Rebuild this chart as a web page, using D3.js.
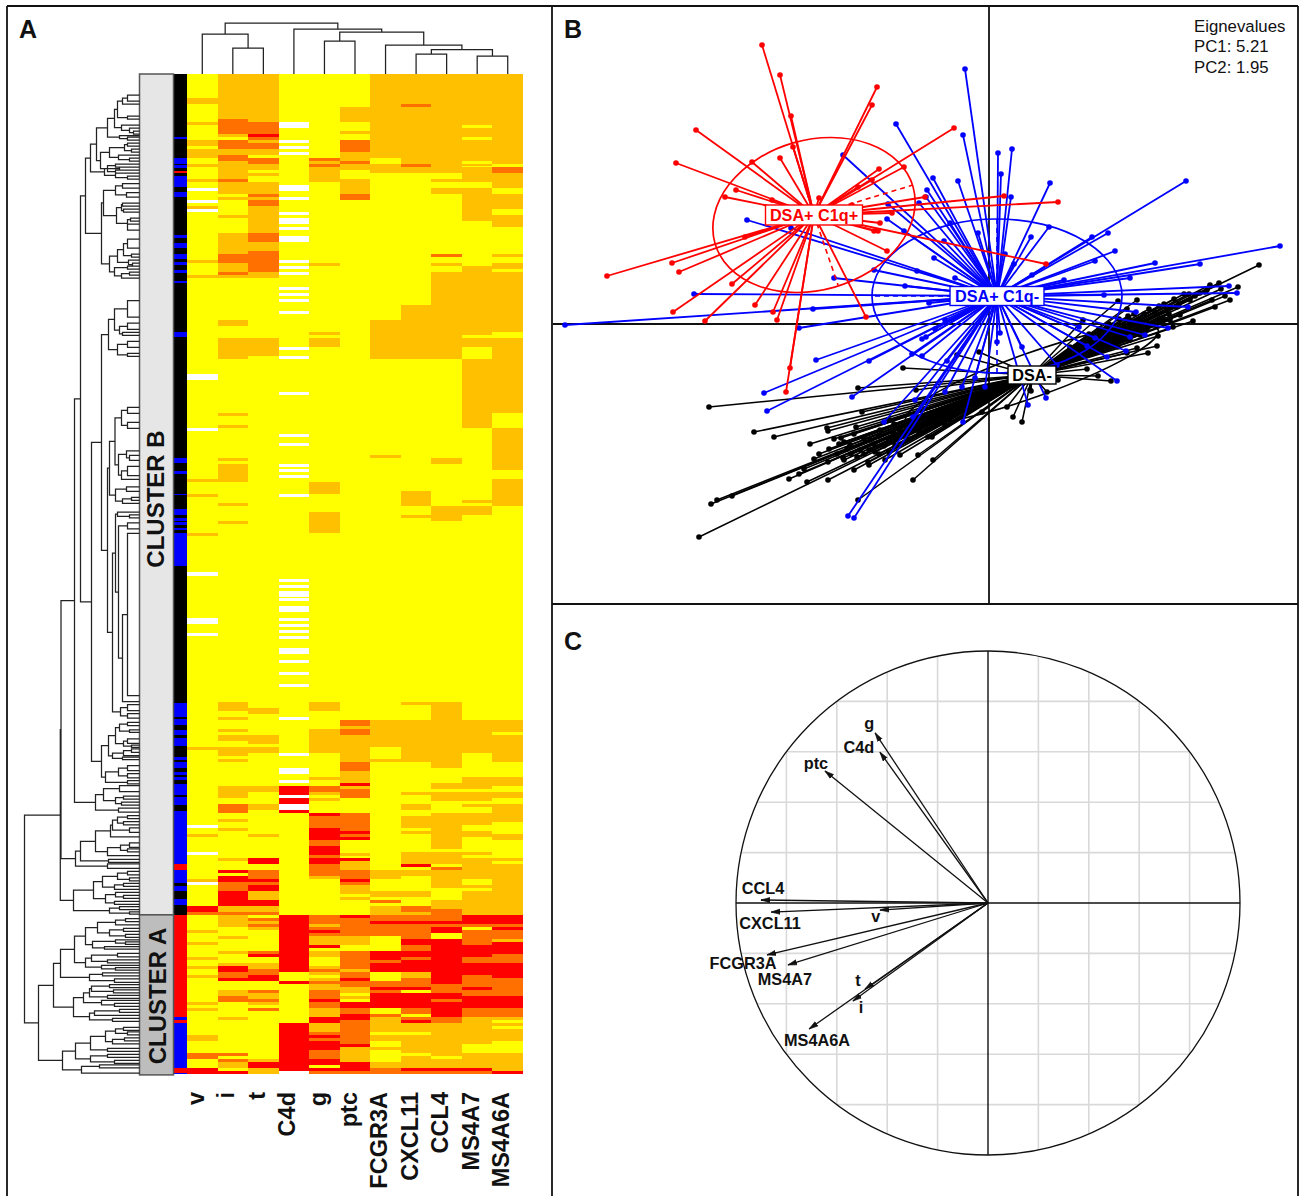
<!DOCTYPE html>
<html>
<head>
<meta charset="utf-8">
<script src="https://cdn.jsdelivr.net/npm/d3@7"></script>
<style>
  body { margin: 0; background: #fff; }
  text { font-family: "Liberation Sans", Arial, sans-serif; }
</style>
</head>
<body>
<div id="chart"></div>
<script>
// heatmap: each column is a list of [fromRow, toRow, level], everything else is level 0
// level: -1 missing, 0 yellow, 1 amber, 2 orange, 3 red
const columnNames = ["v", "i", "t", "C4d", "g", "ptc", "FCGR3A", "CXCL11", "CCL4", "MS4A7", "MS4A6A"];
const rowCount = 333;

const heatV = [[8,10,1],[16,17,1],[22,24,1],[25,28,1],[30,31,1],[35,36,1],[38,39,-1],[42,43,-1],[44,45,1],[45,46,-1],[62,63,1],[67,68,1],[100,102,-1],[118,119,-1],[135,136,1],[140,141,1],[153,154,1],[166,167,-1],[181,183,-1],[186,187,-1],[224,225,1],[250,251,-1],[253,254,1],[259,260,-1],[268,269,1],[269,270,-1],[277,279,3],[279,280,2],[285,286,1],[289,290,1],[294,295,1],[297,298,1],[300,301,1],[309,310,1],[311,312,1],[320,322,1],[326,328,2],[331,333,3]];
const heatI = [[0,15,1],[15,20,2],[20,21,1],[22,25,2],[25,27,1],[27,29,2],[29,35,1],[35,36,2],[36,40,1],[41,42,1],[47,48,1],[53,60,1],[60,63,2],[63,66,1],[66,67,2],[67,68,1],[82,84,1],[88,95,1],[113,114,1],[117,118,1],[128,129,1],[130,136,1],[143,144,1],[149,150,1],[209,212,1],[214,215,1],[218,219,1],[220,222,1],[224,227,1],[228,229,1],[237,241,1],[243,246,2],[248,249,1],[251,252,1],[261,262,1],[265,266,3],[267,269,3],[269,272,2],[272,277,3],[277,279,1],[279,280,2],[280,284,1],[287,288,1],[292,293,1],[296,297,1],[297,299,3],[299,301,2],[301,302,3],[305,307,1],[307,309,2],[314,315,1],[326,327,2],[328,329,2],[329,331,1],[332,333,3]];
const heatT = [[0,16,1],[16,20,2],[20,21,3],[21,22,2],[22,23,1],[23,25,2],[25,27,1],[28,30,2],[30,32,1],[33,34,1],[36,40,1],[40,41,2],[41,42,1],[42,44,2],[44,53,1],[53,56,2],[56,59,1],[59,66,2],[66,68,1],[88,94,1],[211,213,1],[220,223,1],[224,226,1],[237,239,1],[243,245,1],[253,254,1],[261,263,3],[265,268,2],[268,269,3],[269,270,2],[270,272,3],[272,275,1],[275,277,3],[277,279,1],[279,280,2],[281,282,2],[282,283,1],[283,284,2],[284,285,1],[292,293,2],[293,294,3],[296,298,1],[298,300,2],[300,302,3],[305,306,2],[306,308,1],[308,309,2],[309,310,1],[311,312,2],[328,329,1],[329,331,3],[331,333,1]];
const heatC4d = [[16,18,-1],[22,23,-1],[24,25,-1],[26,27,-1],[37,39,-1],[41,42,-1],[46,47,-1],[48,50,-1],[51,52,-1],[54,56,-1],[62,63,-1],[64,65,-1],[66,67,-1],[71,72,-1],[73,74,-1],[75,76,-1],[79,80,-1],[91,92,-1],[94,95,-1],[106,107,-1],[120,121,-1],[123,124,-1],[130,131,-1],[131.5,132.5,-1],[133.5,134.5,-1],[140,141,-1],[168,169,-1],[170,171,-1],[172,174,-1],[174.5,175.5,-1],[177,179,-1],[181,182,-1],[183,184,-1],[185,186,-1],[187,188,-1],[191,193,-1],[195,196,-1],[199,200,-1],[203,204,-1],[214,215,-1],[226,227,-1],[231,233,-1],[235,236,-1],[237,240,3],[240,241,-1],[241,243,3],[243,245,-1],[245,246,3],[280,299,3],[302,303,3],[316,332,3],[332,333,-1]];
const heatG = [[28,29,2],[29,30,1],[30,31,2],[31,36,1],[63,64,1],[86,87,1],[88,91,1],[136,140,1],[146,153,1],[209,212,1],[218,226,1],[234,235,1],[237,239,2],[239,240,1],[241,242,1],[246,247,3],[247,251,2],[251,255,3],[255,257,2],[257,260,3],[260,261,2],[261,263,3],[263,267,2],[267,268,1],[280,283,2],[283,284,1],[284,285,2],[285,286,3],[286,287,2],[287,290,1],[290,291,3],[292,294,1],[297,298,1],[298,299,2],[299,300,1],[301,302,1],[302,303,2],[303,305,1],[305,308,2],[308,309,3],[309,311,2],[311,314,1],[314,316,3],[316,319,1],[319,320,2],[320,321,3],[321,322,2],[322,325,3],[325,328,2],[328,330,3],[331,332,3],[332,333,2]];
const heatPtc = [[11,16,1],[19,20,1],[22,26,2],[26,29,1],[29,30,2],[30,32,1],[35,40,1],[40,42,2],[215,217,2],[217,218,1],[218,220,2],[220,229,1],[229,232,2],[232,236,1],[236,237,3],[237,238,1],[238,241,2],[246,252,2],[252,253,3],[253,254,2],[254,255,3],[259.5,260.5,1],[261,262,3],[262,265,1],[265,268,2],[268,269,3],[269,270,2],[270,273,1],[274,275,1],[280,281,3],[281,287,2],[287,289,1],[289,290,1],[292,298,2],[298,299,1],[299,301,2],[301,302,3],[302,304,2],[304,306,1],[307,308,1],[309,311,3],[311,313,2],[313,315,3],[315,323,2],[323,324,3],[324,329,1],[329,332,3],[332,333,2]];
const heatFcgr = [[0,28,1],[30,33,1],[82,95,1],[127,128,1],[215,224,1],[228,229,1],[265,268,1],[272,274,1],[275,276,2],[277,280,1],[280,282,2],[282,283,3],[283,287,2],[292,295,3],[295,296,2],[296,299,3],[302,304,2],[304,305,3],[305,306,2],[306,311,3],[313,314,2],[314,319,1],[320,322,1],[324,325,1],[329,331,1],[331,333,2]];
const heatCxcl = [[0,10,1],[10,11,2],[11,21,1],[21,30,1],[30,31,2],[31,33,1],[77,95,1],[139,144,1],[147,148,1],[209,210,1],[215,229,1],[239,240,1],[243,245,1],[247,251,1],[252,253,1],[259,263,1],[263,264,3],[265,267,1],[272,274,1],[277,278,2],[278,279,2],[279,280,1],[280,282,2],[282,283,3],[283,288,2],[288,290,3],[290,292,2],[292,294,3],[294,295,2],[295,296,3],[296,299,3],[299,301,1],[301,303,2],[303,304,2],[304,305,3],[306,311,3],[311,313,2],[314,315,2],[315,316,3],[316,319,1],[320,326,1],[327,331,1],[331,332,3],[332,333,2]];
const heatCcl4 = [[0,33,1],[35,36,1],[38,40,1],[60,61,2],[63,64,1],[66,95,1],[128,130,1],[144,149,1],[209,231,1],[236,238,1],[239,242,1],[246,258,1],[259,263,1],[264,265,2],[265,271,1],[275,278,1],[278,282,2],[282,283,3],[283,284,2],[284,286,3],[288,303,3],[303,306,2],[306,308,3],[308,309,2],[309,314,3],[314,316,2],[316,327,1],[328,331,1],[331,332,3],[332,333,2]];
const heatMs7 = [[0,17,1],[18,21,1],[22,29,1],[30,30.5,1],[31,33,1],[33,36,1],[38,49,1],[64,87,1],[88,91,1],[95,118,1],[142,143,1],[144,147,1],[215,226,1],[234,238,1],[239,242,1],[243,244,1],[246,250,1],[252,254,1],[259,260,1],[261,268,1],[270,271,1],[272,280,1],[280,283,3],[283,284,2],[285,290,2],[290,294,3],[294,296,2],[296,300,3],[300,304,2],[304,305,3],[305,307,2],[307,311,3],[311,314,2],[314,323,1],[326,331,1],[331,332,3],[332,333,2]];
const heatMs6 = [[0,30,1],[31,33,2],[33,38,1],[40,45,1],[47,51,1],[60,61,1],[63,65,1],[66,86,1],[88,113,1],[118,132,1],[135,140,1],[140,144,1],[215,219,1],[220,229,1],[234,237,1],[239,241,1],[243,249,1],[253,255,1],[261,262,1],[263,280,1],[280,283,3],[283,284,2],[284,285,3],[285,288,2],[288,289,1],[289,293,3],[293,296,2],[296,301,3],[301,307,2],[307,311,3],[311,314,2],[314,315,1],[316,317,1],[318,322,1],[326,327,1],[327,332,1],[332,333,3]];
const heatColumns = [heatV, heatI, heatT, heatC4d, heatG, heatPtc, heatFcgr, heatCxcl, heatCcl4, heatMs7, heatMs6];

// DSA status strip: black by default, [fromRow, toRow, group]
const stripRuns = [[21,21.5,"b"],[28,30,"b"],[30.3,31.3,"b"],[32.3,33,"r"],[34,37.7,"b"],[39.3,41,"b"],[53.7,54.7,"b"],[56.3,58,"b"],[60,61.7,"b"],[62.7,63.7,"b"],[65.3,66.3,"b"],[69,69.7,"b"],[86,87.7,"b"],[128,129.7,"b"],[132.3,133.3,"b"],[139.7,140.3,"b"],[145,146.7,"b"],[147.7,148.7,"b"],[149.3,150.3,"b"],[151.3,152,"b"],[153,163.7,"b"],[209.3,214,"b"],[214.7,216.7,"b"],[218.3,220,"b"],[221,223.7,"b"],[227.3,228.3,"b"],[229,231,"b"],[232.5,233.5,"b"],[234.2,235.2,"b"],[236.3,240,"b"],[240.7,243.3,"b"],[245.3,263,"b"],[263,265,"r"],[265,269.3,"b"],[270.3,272,"b"],[274.7,276.7,"b"],[280,314,"r"],[314,315,"b"],[315,316,"r"],[316,331,"b"],[331,332.6,"r"],[332.6,333,"b"]];

// column dendrogram [height, left, right]
const columnTree = [51,[40,"v",[26,"i","t"]],[45,"C4d",[42,[33,"g","ptc"],[29,"FCGR3A",[24.5,[20,"CXCL11","CCL4"],[18,"MS4A7","MS4A6A"]]]]]];

// row dendrogram [height, left, right], a plain number is the row of a leaf
const treeUpperA = [43,[32,[25,[22,[17,[12,7,9],10],[12,14,15]],[18,17,[10,18,[6,19,20]]]],[20,20.5,[12,21,22]]],[39,[30,[15,[12,23,24],[8,25,26]],[21,27,[10,28,29]]],[32,[24,30,31],[24,32,33]]]];
const treeUpperB = [35,[20,31,32],[24,33,[12,34,35]]];
const treeMidA = [36,[24,[17,36.5,38],[13,39.5,41]],[23,[18,[17,43,44],[16,45,46]],[12,[9,48,49],[12,50,52]]]];
const treeMidB = [30,[22,[16,[12,55,58],[8,60,61]],[11,62,[7,63,64]]],[25,[12,64,65],[18,[10,66,67],68]]];
const treeTop = [54,[49,treeUpperA,treeUpperB],[38,treeMidA,treeMidB]];

const treeP = [31,[25,[12,75.5,81],[20,[12,83,85],[17,86,87]]],[22,[12,89,91],[12,93,94]]];
const treeL = [24.5,[18,[12,111,113],[12,116,118]],[21,[13,125.5,[10,127,128.7]],[18,[12,130.7,133.7],135]]];
const treeM = [24,[13,137.5,139],[17,[8,141,142],143]];
const treeE = [24,[22,145.9,[10,146.8,147.8]],[21,[12,149.5,151.5],[17,[12,153,207],209]]];
const treeF = [19,[12,210,212],[12,213,214.5]];
const treeQ = [32,[30,treeL,treeM],[27,treeE,treeF]];
const treeU = [31,[24,[20,[12,215.9,217],[10,218.4,219.2]],[16,[12,221.4,222.9],[8,223.5,224.2]]],[27,[16,[8,224.7,225.9],227],[17,227.5,228.3]]];
const treeV = [34,[21,[12,230.3,232],[12,233,234.4]],[12,235.3,236.4]];
const treeS = [48,[38,treeP,treeQ],[38,treeU,treeV]];

const treeX = [44,[36,[20,237,239],[24,[16,240.5,241.5],[18,242.5,243.5]]],[21,244.5,245.8]];
const treeZa = [29,[27,[22,[12,247,248],[16,249,250]],[10,251,252.5]],254];
const treeZb = [32,[19,[10,256,257.5],[12,258,259]],260.3];
const treeZ2 = [64,[59,[44,treeZa,treeZb],[31,261.5,262.5]],[32,263,264.5]];
const treeZ4 = [66,[46,[37,[22,[12,265.5,266.7],[10,267.7,268.7]],[25,[16,269.5,270.5],271.5]],[34,[24,272.5,[16,273.5,274.5]],[25,275.5,276.5]]],[30,[20,277.3,278.3],[10,279,279.8]]];

const treeA1 = [54,[42,[24,[14,281.3,282.3],283.3],[30,[16,284.5,285.5],[14,286.5,287.5]]],[47,[24,288.3,[14,289,289.8]],[35,290.6,291.4]]];
const treeA2 = [54,[48,[22,292.8,294],[32,295,296]],[38,296.8,[24,297.6,298.4]]];
const treeA3 = [50,[37,299.3,300.3],[25,301.3,302.5]];
const treeA4 = [66,[56,[50,[48,[30,303.2,304.2],[26,305,306]],[32,306.8,307.8]],[38,308.5,[25,309.5,310.5]]],[50,[45,[20,311.5,312.5],313.5],[27,314.5,315.5]]];
const treeA5 = [64,[49,[34,[24,[16,317.5,318.5],[12,319,320]],[27,[15,321,322],323]],[32,324.5,325.5]],[49,[32,326.5,327.5],[25,328.5,329.5]]];
const treeA6 = [58,[40,330,331],332.7];
const treeClusterA = [101,[86,[79,[65,treeA1,treeA2],treeA3],treeA4],[77,treeA5,treeA6]];

const rowTree = [115,[79.2,[78.5,[65,[59,treeTop,treeS],treeX],treeZ2],treeZ4],treeClusterA];

// PCA individuals, [PC1, PC2]
const centreBlack = [0.43, -0.51];
const centreBlue = [0.08, 0.28];
const centreRed = [-1.75, 1.09];

const pointsRed = [[-2.27,2.79],[-2.09,2.49],[-1.98,2.08],[-1.12,2.37],[-1.17,2.19],[-2.93,1.94],[-3.13,1.61],[-2.37,1.62],[-2.09,1.66],[-1.96,1.77],[-0.85,1.57],[-1.10,1.55],[-1.17,1.44],[-1.31,1.37],[-2.53,1.34],[-2.64,1.27],[-2.17,1.24],[-1.70,1.26],[-0.64,1.27],[-1.37,1.19],[-0.97,1.11],[-1.09,1.01],[-1.15,0.93],[-1.11,0.93],[-1.02,0.73],[-3.82,0.48],[-3.17,0.61],[-3.10,0.52],[-2.44,0.87],[-2.57,0.40],[-3.16,0.12],[-2.84,0.03],[-2.34,0.19],[-2.16,0.12],[-2.12,0.04],[-1.23,0.07],[0.57,0.60],[0.15,1.28],[0.69,1.22],[-0.35,1.96],[-2.03,-0.68],[-1.99,-0.44]];
const pointsBlue = [[-0.24,2.55],[-0.26,1.89],[0.09,1.71],[0.23,1.75],[0.12,1.50],[0.22,1.27],[0.61,1.41],[-0.31,1.43],[-0.56,1.46],[-0.62,1.34],[-0.63,1.27],[1.97,1.43],[-0.39,1.01],[-0.11,0.91],[0.60,0.97],[0.42,0.87],[1.19,0.91],[1.03,0.87],[1.26,0.73],[1.06,0.63],[2.91,0.78],[1.66,0.61],[2.11,0.60],[0.75,0.44],[1.41,0.46],[-0.55,0.66],[-0.45,0.83],[0.16,0.70],[-0.34,0.46],[0.25,0.60],[0.43,0.49],[2.40,0.38],[2.48,0.31],[1.15,0.29],[-0.60,0.21],[-1.46,1.69],[-0.93,2.00],[-0.70,1.21],[-1.01,1.20],[-1.02,1.05],[-0.85,0.93],[-2.42,1.04],[-1.98,0.96],[-1.15,0.54],[-0.72,0.53],[-1.55,0.46],[-0.84,0.38],[-2.95,0.30],[-1.76,0.15],[-4.24,-0.01],[-1.90,-0.04],[-1.73,-0.36],[-2.25,-0.69],[-2.22,-0.87],[-1.20,-0.37],[-0.67,-0.15],[-0.63,-0.13],[-0.54,-0.05],[-0.44,0.04],[-1.37,-0.73],[-0.77,-0.30],[-0.67,-0.32],[-0.42,-0.37],[-0.74,-0.76],[-1.05,-0.98],[-0.27,-0.63],[-0.44,-0.68],[-0.04,-0.63],[-0.14,-0.54],[-0.26,-0.98],[-1.41,-1.92],[-1.35,-1.94],[-0.76,-0.93],[0.08,-0.18],[0.33,-0.23],[0.57,-0.74],[0.39,-0.81],[0.11,-0.09],[1.99,0.17],[1.47,0.12],[1.79,-0.04],[0.90,-0.03],[1.56,-0.11],[1.41,-0.13],[1.37,-0.27],[1.18,-0.33],[0.98,-0.22],[1.06,-0.14],[1.28,-0.57],[0.68,-0.41]];
const pointsBlackLower = [[-2.80,-0.83],[-2.35,-1.08],[-2.15,-1.13],[-1.79,-1.20],[-1.62,-1.04],[-1.61,-1.07],[-1.48,-1.14],[-1.33,-1.03],[-1.27,-0.88],[-1.31,-0.64],[-0.73,-0.66],[-0.86,-0.44],[-0.32,-0.31],[-0.10,-0.28],[-2.78,-1.80],[-2.72,-1.76],[-2.57,-1.72],[-2.90,-2.13],[-1.82,-1.58],[-1.61,-1.56],[-1.61,-1.38],[-1.46,-1.34],[-1.45,-1.36],[-1.35,-1.46],[-1.21,-1.38],[-1.20,-1.41],[-1.04,-1.36],[-1.31,-1.76],[-0.71,-1.31],[-0.76,-1.56],[-0.56,-1.36],[-0.61,-1.13],[-0.57,-1.13],[-0.07,-0.88],[0.18,-0.83],[0.24,-0.93],[0.33,-0.98],[0.41,-0.66],[0.58,-0.68],[-1.19,-1.16],[-1.09,-1.06],[-0.94,-1.21],[-0.84,-1.11],[-0.99,-0.96],[-0.74,-0.96],[-0.64,-1.01],[-0.49,-0.86],[-0.44,-1.01],[-0.34,-0.91],[-0.24,-0.81],[-0.14,-0.71],[-0.89,-1.31],[-1.29,-1.26],[-1.39,-1.21],[-1.14,-1.28],[-1.55,-1.15],[-1.50,-1.20],[-1.45,-1.18],[-1.42,-1.25],[-1.38,-1.30],[-1.32,-1.33],[-1.25,-1.30],[-1.20,-1.26],[-1.15,-1.20],[-1.05,-1.22],[-1.00,-1.15],[-0.95,-1.10],[-0.90,-1.05],[-0.80,-1.00],[-1.52,-1.30],[-1.60,-1.25],[-1.70,-1.30],[-1.75,-1.35],[-1.85,-1.45],[-1.90,-1.50],[-2.00,-1.55],[-1.10,-1.30],[-1.00,-1.28],[-1.25,-1.15],[-1.35,-1.10],[-1.10,-1.12],[-0.80,-1.15],[-0.70,-1.08],[-0.95,-1.00]];
const pointsBlackUpper = [[2.70,0.59],[2.30,0.41],[2.49,0.37],[2.32,0.35],[2.36,0.28],[2.41,0.24],[2.26,0.17],[2.18,0.34],[2.23,0.24],[2.04,0.03],[1.84,-0.03],[1.91,0.09],[1.66,0.12],[1.48,0.24],[1.38,0.15],[1.39,0.08],[1.29,0.23],[1.69,-0.12],[1.68,-0.22],[1.59,-0.29],[1.48,-0.24],[1.38,-0.29],[1.22,-0.57],[1.09,-0.52],[0.98,-0.45],[0.69,-0.56],[0.42,-0.67],[0.94,0.04],[1.18,-0.03],[1.51,0.04],[1.78,0.14],[2.01,0.24],[2.11,0.31],[2.16,0.32],[1.88,0.17],[1.74,0.06],[1.58,-0.06],[1.41,-0.16],[1.29,-0.23],[1.08,-0.16],[0.81,-0.23],[2.06,0.28],[2.21,0.39],[1.81,0.04],[1.31,-0.06],[1.51,-0.11],[1.00,-0.10],[1.10,-0.05],[1.20,0.00],[1.30,0.05],[1.40,0.05],[1.45,0.10],[1.55,0.10],[1.60,0.15],[1.70,0.18],[1.75,0.20],[1.85,0.25],[1.95,0.30],[2.00,0.30],[1.20,-0.12],[1.30,-0.15],[1.40,-0.05],[1.50,0.00],[1.60,0.00],[1.70,0.05],[1.80,0.10],[1.90,0.20],[1.10,-0.20],[1.20,-0.20],[1.30,-0.10]];
const pointsBlack = pointsBlackLower.concat(pointsBlackUpper);

// ellipse semi axes in PC units and tilt in degrees, then where the dashed axes end
const ellipseRed = [1.03, 0.75, 16];
const ellipseBlue = [1.25, 0.77, 0];
const ellipseBlack = [1.34, 0.22, 19.6];
const dashEndsRed = [[-0.76,1.39],[-1.51,0.39],[-1.96,1.77],[-2.44,0.87]];
const dashEndsBlue = [[0.08,1.06],[-1.17,0.28],[0.08,-0.49]];

// correlation circle
const varNames = ["g", "C4d", "ptc", "CCL4", "CXCL11", "v", "FCGR3A", "MS4A7", "t", "i", "MS4A6A"];
const varPC1 = [-0.448, -0.429, -0.647, -0.901, -0.861, -0.429, -0.877, -0.794, -0.488, -0.536, -0.710];
const varPC2 = [0.675, 0.599, 0.524, 0.012, -0.036, -0.028, -0.206, -0.246, -0.341, -0.389, -0.500];
const gridTicks = [-0.8, -0.6, -0.4, -0.2, 0.2, 0.4, 0.6, 0.8];

const eigenLines = ["Eignevalues", "PC1: 5.21", "PC2: 1.95"];

// svg
const width = 1300, height = 1196;

const svg = d3.select("#chart").append("svg")
	.attr("width", width)
	.attr("height", height)
	.style("display", "block");

const colours = { "-1": "#ffffff", 0: "#ffff00", 1: "#ffc000", 2: "#ff7000", 3: "#ff0000" };
const stripColours = { b: "#0000ff", r: "#ff0000" };

// ---- panel A ----
const rowY = d3.scaleLinear().domain([0, rowCount]).range([74, 1074]);
const colX = d3.scaleBand().domain(columnNames).range([187, 523]);

const heat = svg.append("g").attr("shape-rendering", "crispEdges");

heat.append("rect")
	.attr("x", 187).attr("y", 74)
	.attr("width", 336).attr("height", 1000)
	.attr("fill", colours[0]);

heat.selectAll("g")
	.data(heatColumns)
	.join("g")
	.attr("transform", (d, i) => `translate(${colX(columnNames[i])},0)`)
	.selectAll("rect")
	.data(d => d)
	.join("rect")
	.attr("y", d => rowY(d[0]))
	.attr("width", colX.bandwidth())
	.attr("height", d => rowY(d[1]) - rowY(d[0]))
	.attr("fill", d => colours[d[2]]);

// strip next to the heatmap
const strip = svg.append("g").attr("shape-rendering", "crispEdges");

strip.append("rect")
	.attr("x", 174).attr("y", 74)
	.attr("width", 13).attr("height", 1000)
	.attr("fill", "#000");

strip.selectAll("rect.run")
	.data(stripRuns)
	.join("rect")
	.attr("class", "run")
	.attr("x", 174)
	.attr("width", 13)
	.attr("y", d => rowY(d[0]))
	.attr("height", d => rowY(d[1]) - rowY(d[0]))
	.attr("fill", d => stripColours[d[2]]);

// cluster boxes
const clusterBoxes = [
	{ name: "CLUSTER B", from: 0, to: 280, fill: "#e6e6e6", tx: 164 },
	{ name: "CLUSTER A", from: 280, to: 333.3, fill: "#bdbdbd", tx: 166 }
];

svg.selectAll("rect.cluster")
	.data(clusterBoxes)
	.join("rect")
	.attr("class", "cluster")
	.attr("x", 139.5)
	.attr("width", 34)
	.attr("y", d => rowY(d.from))
	.attr("height", d => rowY(d.to) - rowY(d.from))
	.attr("fill", d => d.fill)
	.attr("stroke", "#555")
	.attr("stroke-width", 1.5);

svg.selectAll("text.cluster")
	.data(clusterBoxes)
	.join("text")
	.attr("class", "cluster")
	.attr("text-anchor", "middle")
	.attr("font-weight", "bold")
	.attr("font-size", 24)
	.attr("fill", "#111")
	.attr("transform", d => `translate(${d.tx},${d.from === 0 ? 499 : 996}) rotate(-90)`)
	.text(d => d.name);

// walk a nested [height, left, right] tree and draw the brackets
const bracketPath = (tree, pos, heightPos, vertical) => {
	const root = d3.hierarchy(tree, d => Array.isArray(d) ? d.slice(1) : null);
	root.eachAfter(n => {
		n.h = n.children ? n.data[0] : 0;
		n.at = n.children ? d3.mean(n.children, c => c.at) : pos(n.data);
	});
	const path = d3.path();
	root.descendants().filter(n => n.children).forEach(n => {
		const [a, b] = n.children;
		if (vertical) {
			path.moveTo(a.at, heightPos(a.h));
			path.lineTo(a.at, heightPos(n.h));
			path.lineTo(b.at, heightPos(n.h));
			path.lineTo(b.at, heightPos(b.h));
		} else {
			path.moveTo(heightPos(a.h), a.at);
			path.lineTo(heightPos(n.h), a.at);
			path.lineTo(heightPos(n.h), b.at);
			path.lineTo(heightPos(b.h), b.at);
		}
	});
	return path.toString();
};

const rowHeight = d3.scaleLinear().domain([0, 115]).range([139.5, 24.5]);
const colHeight = d3.scaleLinear().domain([0, 51]).range([74, 23]);

svg.append("path")
	.attr("d", bracketPath(rowTree, d => rowY(d), rowHeight, false))
	.attr("fill", "none")
	.attr("stroke", "#222")
	.attr("stroke-width", 1.25);

svg.append("path")
	.attr("d", bracketPath(columnTree, d => colX(d) + colX.bandwidth() / 2, colHeight, true))
	.attr("fill", "none")
	.attr("stroke", "#222")
	.attr("stroke-width", 1.25);

// column labels
svg.selectAll("text.col")
	.data(columnNames)
	.join("text")
	.attr("class", "col")
	.attr("text-anchor", "end")
	.attr("font-weight", "bold")
	.attr("font-size", 23.5)
	.attr("fill", "#111")
	.attr("transform", d => `translate(${colX(d) + colX.bandwidth() / 2 + 1.5},1092) rotate(-90)`)
	.text(d => d);

// ---- panel B ----
const pcX = d3.scaleLinear().domain([-4.36, 3.09]).range([553, 1298]);
const pcY = d3.scaleLinear().domain([3.18, -2.80]).range([6, 604]);

svg.append("line").attr("x1", 553).attr("x2", 1298).attr("y1", pcY(0)).attr("y2", pcY(0)).attr("stroke", "#111").attr("stroke-width", 1.8);
svg.append("line").attr("x1", pcX(0)).attr("x2", pcX(0)).attr("y1", 6).attr("y2", 604).attr("stroke", "#111").attr("stroke-width", 1.8);

const groups = [
	{ colour: "#000", points: pointsBlack, centre: centreBlack, ell: ellipseBlack, dash: [], lw: 1.5 },
	{ colour: "#0000ff", points: pointsBlue, centre: centreBlue, ell: ellipseBlue, dash: dashEndsBlue, lw: 1.8 },
	{ colour: "#ff0000", points: pointsRed, centre: centreRed, ell: ellipseRed, dash: dashEndsRed, lw: 1.8 }
];

const pcG = svg.selectAll("g.group")
	.data(groups)
	.join("g")
	.attr("class", "group");

pcG.append("ellipse")
	.attr("rx", d => d.ell[0] * 100)
	.attr("ry", d => d.ell[1] * 100)
	.attr("transform", d => `translate(${pcX(d.centre[0])},${pcY(d.centre[1])}) rotate(${-d.ell[2]})`)
	.attr("fill", "none")
	.attr("stroke", d => d.colour)
	.attr("stroke-width", 1.7);

pcG.each(function(d) {
	const g = d3.select(this);
	g.selectAll("line.spoke")
		.data(d.points)
		.join("line")
		.attr("class", "spoke")
		.attr("x1", pcX(d.centre[0]))
		.attr("y1", pcY(d.centre[1]))
		.attr("x2", p => pcX(p[0]))
		.attr("y2", p => pcY(p[1]))
		.attr("stroke", d.colour)
		.attr("stroke-width", d.lw);
	g.selectAll("line.dash")
		.data(d.dash)
		.join("line")
		.attr("class", "dash")
		.attr("x1", pcX(d.centre[0]))
		.attr("y1", pcY(d.centre[1]))
		.attr("x2", p => pcX(p[0]))
		.attr("y2", p => pcY(p[1]))
		.attr("stroke", d.colour)
		.attr("stroke-width", 1.6)
		.attr("stroke-dasharray", "5 4");
	g.selectAll("circle")
		.data(d.points)
		.join("circle")
		.attr("cx", p => pcX(p[0]))
		.attr("cy", p => pcY(p[1]))
		.attr("r", 2.8)
		.attr("fill", d.colour);
});

// group labels
const groupLabels = [
	{ name: "DSA+ C1q+", colour: "#ff0000", centre: centreRed, w: 97, h: 20 },
	{ name: "DSA+ C1q-", colour: "#0000ff", centre: centreBlue, w: 94, h: 19 },
	{ name: "DSA-", colour: "#000", centre: centreBlack, w: 48, h: 18 }
];

const labelG = svg.selectAll("g.glabel")
	.data(groupLabels)
	.join("g")
	.attr("class", "glabel")
	.attr("transform", d => `translate(${pcX(d.centre[0])},${pcY(d.centre[1])})`);

labelG.append("rect")
	.attr("x", d => -d.w / 2)
	.attr("y", d => -d.h / 2)
	.attr("width", d => d.w)
	.attr("height", d => d.h)
	.attr("fill", "#fff")
	.attr("stroke", d => d.colour)
	.attr("stroke-width", 1.4);

labelG.append("text")
	.attr("text-anchor", "middle")
	.attr("y", 5.5)
	.attr("font-weight", "bold")
	.attr("font-size", 16.2)
	.attr("fill", d => d.colour)
	.text(d => d.name);

svg.selectAll("text.eigen")
	.data(eigenLines)
	.join("text")
	.attr("class", "eigen")
	.attr("x", 1194)
	.attr("y", (d, i) => 32 + i * 20.3)
	.attr("font-size", 16.8)
	.attr("fill", "#111")
	.text(d => d);

// ---- panel C ----
const circX = d3.scaleLinear().domain([-1, 1]).range([736, 1240]);
const circY = d3.scaleLinear().domain([-1, 1]).range([1155, 651]);

svg.append("clipPath").attr("id", "unit")
	.append("circle")
	.attr("cx", circX(0)).attr("cy", circY(0)).attr("r", 252);

const grid = svg.append("g").attr("clip-path", "url(#unit)");

grid.selectAll("line.v")
	.data(gridTicks)
	.join("line")
	.attr("class", "v")
	.attr("x1", d => circX(d)).attr("x2", d => circX(d))
	.attr("y1", 651).attr("y2", 1155)
	.attr("stroke", "#d9d9d9").attr("stroke-width", 1.6);

grid.selectAll("line.h")
	.data(gridTicks)
	.join("line")
	.attr("class", "h")
	.attr("y1", d => circY(d)).attr("y2", d => circY(d))
	.attr("x1", 736).attr("x2", 1240)
	.attr("stroke", "#d9d9d9").attr("stroke-width", 1.6);

svg.append("line").attr("x1", 736).attr("x2", 1240).attr("y1", circY(0)).attr("y2", circY(0)).attr("stroke", "#111").attr("stroke-width", 1.4);
svg.append("line").attr("x1", circX(0)).attr("x2", circX(0)).attr("y1", 651).attr("y2", 1155).attr("stroke", "#111").attr("stroke-width", 1.4);

svg.append("circle")
	.attr("cx", circX(0)).attr("cy", circY(0)).attr("r", 252)
	.attr("fill", "none").attr("stroke", "#111").attr("stroke-width", 1.3);

svg.append("defs").append("marker")
	.attr("id", "head")
	.attr("viewBox", "0 0 10 10")
	.attr("refX", 9).attr("refY", 5)
	.attr("markerWidth", 10).attr("markerHeight", 10)
	.attr("markerUnits", "userSpaceOnUse")
	.attr("orient", "auto")
	.append("path")
	.attr("d", "M0,2.4L9,5L0,7.6z")
	.attr("fill", "#111")
	.attr("stroke", "#111")
	.attr("stroke-width", 0.6);

svg.selectAll("line.arrow")
	.data(varNames)
	.join("line")
	.attr("class", "arrow")
	.attr("x1", circX(0)).attr("y1", circY(0))
	.attr("x2", (d, i) => circX(varPC1[i]))
	.attr("y2", (d, i) => circY(varPC2[i]))
	.attr("stroke", "#111")
	.attr("stroke-width", 1.3)
	.attr("marker-end", "url(#head)");

// label nudges away from the arrow tips, px
const varNudge = [[-6,-4],[-21,1],[-9,-2],[2,-6],[-1,17],[-4,12],[-24,14],[-3,20],[-7,-3],[8,12],[8,17]];

svg.selectAll("text.var")
	.data(varNames)
	.join("text")
	.attr("class", "var")
	.attr("text-anchor", "middle")
	.attr("font-weight", "bold")
	.attr("font-size", 16.3)
	.attr("fill", "#111")
	.attr("x", (d, i) => circX(varPC1[i]) + varNudge[i][0])
	.attr("y", (d, i) => circY(varPC2[i]) + varNudge[i][1])
	.text(d => d);

// ---- frame and panel letters ----
const frameLines = [[7,6,1298,6],[7,6,7,1196],[552,6,552,1196],[1298,6,1298,1196],[552,604,1298,604]];

svg.selectAll("line.frame")
	.data(frameLines)
	.join("line")
	.attr("class", "frame")
	.attr("x1", d => d[0]).attr("y1", d => d[1])
	.attr("x2", d => d[2]).attr("y2", d => d[3])
	.attr("stroke", "#111")
	.attr("stroke-width", 1.8);

const panelLetters = [["A", 19, 38], ["B", 564, 38], ["C", 564, 650]];

svg.selectAll("text.letter")
	.data(panelLetters)
	.join("text")
	.attr("class", "letter")
	.attr("x", d => d[1])
	.attr("y", d => d[2])
	.attr("font-weight", "bold")
	.attr("font-size", 25)
	.attr("fill", "#111")
	.text(d => d[0]);
</script>
</body>
</html>
